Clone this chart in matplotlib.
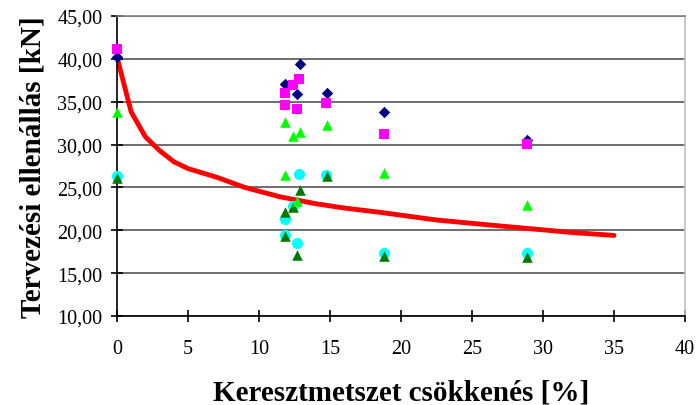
import matplotlib
matplotlib.use('Agg')
import matplotlib.pyplot as plt
from matplotlib.ticker import FuncFormatter

# measured points, x = cross-section loss [%], y = design resistance [kN]
navy_x = [0, 11.8, 12.9, 12.7, 14.8, 18.8, 28.9]
navy_y = [40.2, 37.1, 39.4, 35.9, 36.0, 33.8, 30.5]

magenta_x = [0, 11.8, 11.8, 12.4, 12.8, 12.7, 14.7, 18.8, 28.9]
magenta_y = [41.2, 36.0, 34.6, 36.9, 37.6, 34.2, 34.9, 31.2, 30.1]

lime_x = [0, 11.8, 12.4, 12.9, 14.8, 11.8, 18.8, 12.7, 28.9]
lime_y = [33.8, 32.6, 31.0, 31.5, 32.3, 26.5, 26.7, 23.4, 23.0]

cyan_x = [0, 12.8, 14.7, 12.4, 11.8, 11.8, 12.7, 18.8, 28.9]
cyan_y = [26.3, 26.6, 26.4, 22.8, 21.3, 19.5, 18.5, 17.4, 17.3]

dgreen_x = [0, 12.9, 14.8, 12.4, 11.8, 11.8, 12.7, 18.8, 28.9]
dgreen_y = [26.1, 24.7, 26.3, 22.7, 22.1, 19.3, 17.1, 17.0, 16.9]

# design curve
curve_x = [0, 1, 2, 3, 4, 5, 7, 9, 11.5, 14, 16, 18.5, 22.5, 27, 32, 35]
curve_y = [40.2, 33.8, 30.9, 29.3, 28.0, 27.2, 26.2, 25.0, 23.9, 23.1,
           22.6, 22.1, 21.2, 20.5, 19.75, 19.4]

xticks = [0, 5, 10, 15, 20, 25, 30, 35, 40]
yticks = [10, 15, 20, 25, 30, 35, 40, 45]

plt.rcParams['font.family'] = ['Liberation Serif', 'DejaVu Serif']

fig = plt.figure(figsize=(7, 4.06), dpi=100)
ax = fig.add_axes([117 / 700, 89 / 406, 568 / 700, 300 / 406])

ax.plot(curve_x, curve_y, color='#ff0000', lw=3.5, solid_capstyle='round', zorder=2)
ax.scatter(navy_x, navy_y, marker='D', s=34, color='#000080', zorder=3, linewidths=0, clip_on=False)
ax.scatter(magenta_x, magenta_y, marker='s', s=44, color='#ff00ff', zorder=4, linewidths=0, clip_on=False)
ax.scatter(cyan_x, cyan_y, marker='o', s=64, color='#00ffff', zorder=5, linewidths=0, clip_on=False)
ax.scatter(dgreen_x, dgreen_y, marker='^', s=58, color='#007a00', zorder=6, linewidths=0, clip_on=False)
ax.scatter(lime_x, lime_y, marker='^', s=58, color='#00ff00', zorder=7, linewidths=0, clip_on=False)

ax.set_xlim(0, 40)
ax.set_ylim(10, 45)
ax.set_xticks(xticks)
ax.set_yticks(yticks)
ax.yaxis.set_major_formatter(FuncFormatter(lambda v, p: f'{v:.2f}'.replace('.', ',')))
ax.grid(axis='y', color='#555555', lw=1.2)
ax.set_axisbelow(True)

ax.spines['left'].set_color('black')
ax.spines['bottom'].set_color('black')
ax.spines['top'].set_color('#808080')
ax.spines['right'].set_color('#c0c0c0')
for s in ax.spines.values():
    s.set_linewidth(1.2)

ax.tick_params(axis='both', direction='inout', length=9, width=1.2,
               labelsize=14.5, colors='black')
ax.tick_params(axis='x', pad=12)
ax.tick_params(axis='y', pad=6)

ax.set_xlabel('Keresztmetszet csökkenés [%]', fontsize=21, fontweight='bold', labelpad=15)
ax.set_ylabel('Tervezési ellenállás [kN]', fontsize=21, fontweight='bold', labelpad=8)

fig.savefig('out.png', dpi=100)
